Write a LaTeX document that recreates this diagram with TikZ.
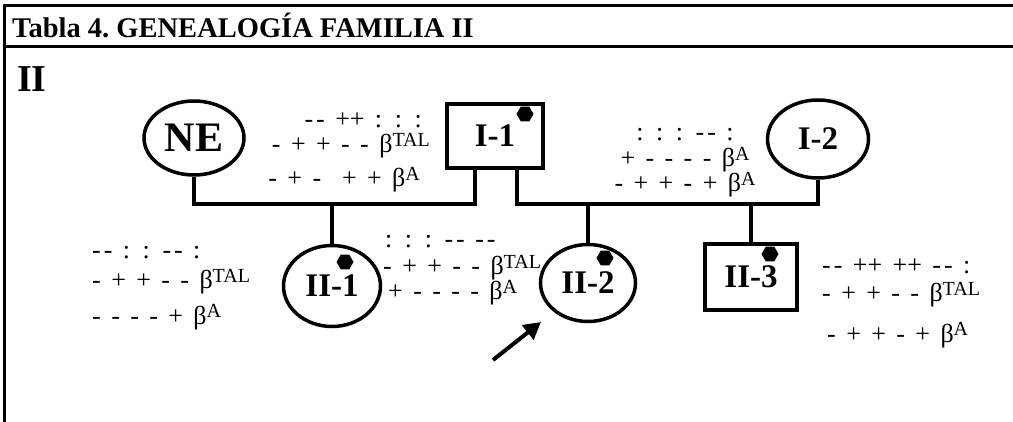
\documentclass[tikz,border=0pt]{standalone}
\usepackage{fontspec}
\setmainfont{Liberation Serif}
\newfontfamily\hapfont[WordSpace=1.6]{Liberation Serif}
\usetikzlibrary{positioning,arrows.meta,shapes.geometric}
\newcommand\dd{-\kern3pt-}
\newcommand\bsup[1]{β\raisebox{6pt}{\fontsize{20}{20}\selectfont #1}}

\begin{document}
\begin{tikzpicture}[x=1pt,y=-1pt,
    female/.style={ellipse,draw,line width=3.5pt,inner sep=0pt,font=\fontsize{33}{33}\selectfont\bfseries},
    male/.style={rectangle,draw,line width=3.5pt,inner sep=0pt,font=\fontsize{33}{33}\selectfont\bfseries},
    carrier/.style={regular polygon,regular polygon sides=6,fill=black,minimum size=17pt,inner sep=0pt},
    link/.style={line width=4pt},
    hap/.style={inner sep=0pt,font=\hapfont\fontsize{26}{26}\selectfont}]
    \useasboundingbox (0,0) rectangle (1013,422);

    % Frame
    \draw[line width=3pt] (4,422) -- (4,6) -- (1013,6);
    \draw[line width=3pt] (4,47) -- (1013,47);
    \node[anchor=base west,inner sep=0pt,font=\fontsize{28.5}{28.5}\selectfont\bfseries] (title) at (12,38) {Tabla 4.\ GENEALOG\'IA FAMILIA II};
    \node[anchor=base west,inner sep=0pt,font=\fontsize{38}{38}\selectfont\bfseries] (gen) at (17,92) {II};

    % Generation I
    \node[female,minimum width=100pt,minimum height=74pt,font=\fontsize{42}{42}\selectfont\bfseries] (ne) at (194,138) {NE};
    \node[male,minimum width=96pt,minimum height=64pt] (ia) at (495,136) {I-1};
    \node[female,minimum width=101pt,minimum height=78pt] (ib) at (818,139) {I-2};

    % Generation II
    \node[female,minimum width=97pt,minimum height=81pt] (iia) at (332,286) {II-1};
    \node[female,minimum width=95pt,minimum height=77pt] (iib) at (588,283) {II-2};
    \node[male,minimum width=92pt,minimum height=66pt] (iic) at (751,277) {II-3};

    % Carriers
    \node[carrier] (ia-dot) at (525,114) {};
    \node[carrier] (iia-dot) at (345,262) {};
    \node[carrier] (iib-dot) at (605,258) {};
    \node[carrier] (iic-dot) at (770,254) {};

    % Marriages and offspring
    \coordinate (mleft) at (475,204);
    \coordinate (mright) at (517,204);
    \draw[link] (ne.south) |- (mleft) -- (mleft |- ia.south);
    \draw[link] (ib.south) |- (mright) -- (mright |- ia.south);
    \draw[link] (iia.north) -- (iia.north |- mleft);
    \draw[link] (iib.north) -- (iib.north |- mright);
    \draw[link] (iic.north) -- (iic.north |- mright);

    % Proband
    \coordinate (ptail) at (493,360);
    \coordinate (phead) at (541,322);
    \draw[link,-{Triangle[length=17pt,width=18pt]}] (ptail) -- (phead);

    % Haplotypes
    \node[hap,anchor=base east] (ia-h1) at (422,128) {\dd{} ++ : : :};
    \node[hap,anchor=base east] (ia-h2) at (430,153) {- + + - - \bsup{TAL}};
    \node[hap,anchor=base east] (ia-h3) at (420,187) {- + -\ \ + + \bsup{A}};

    \node[hap,anchor=base] (ib-h1) at (685,141) {: : : \dd{} :};
    \node[hap,anchor=base] (ib-h2) at (685,167) {+ - - - - \bsup{A}};
    \node[hap,anchor=base] (ib-h3) at (685,192) {- + + - + \bsup{A}};

    \node[hap,anchor=base west] (iia-h1) at (92,259) {\dd{} : : \dd{} :};
    \node[hap,anchor=base west] (iia-h2) at (92,289) {- + + - - \bsup{TAL}};
    \node[hap,anchor=base west] (iia-h3) at (92,324) {- - - - + \bsup{A}};

    \node[hap,anchor=base west] (iib-h1) at (385,248) {: : : \dd{} \dd};
    \node[hap,anchor=base west] (iib-h2) at (383,275) {- + + - - \bsup{TAL}};
    \node[hap,anchor=base west] (iib-h3) at (388,300) {+ - - - - \bsup{A}};

    \node[hap,anchor=base west] (iic-h1) at (822,274) {\dd{} ++ ++ \dd{} :};
    \node[hap,anchor=base west] (iic-h2) at (822,302) {- + + - - \bsup{TAL}};
    \node[hap,anchor=base west] (iic-h3) at (827,342) {- + + - + \bsup{A}};
\end{tikzpicture}
\end{document}
